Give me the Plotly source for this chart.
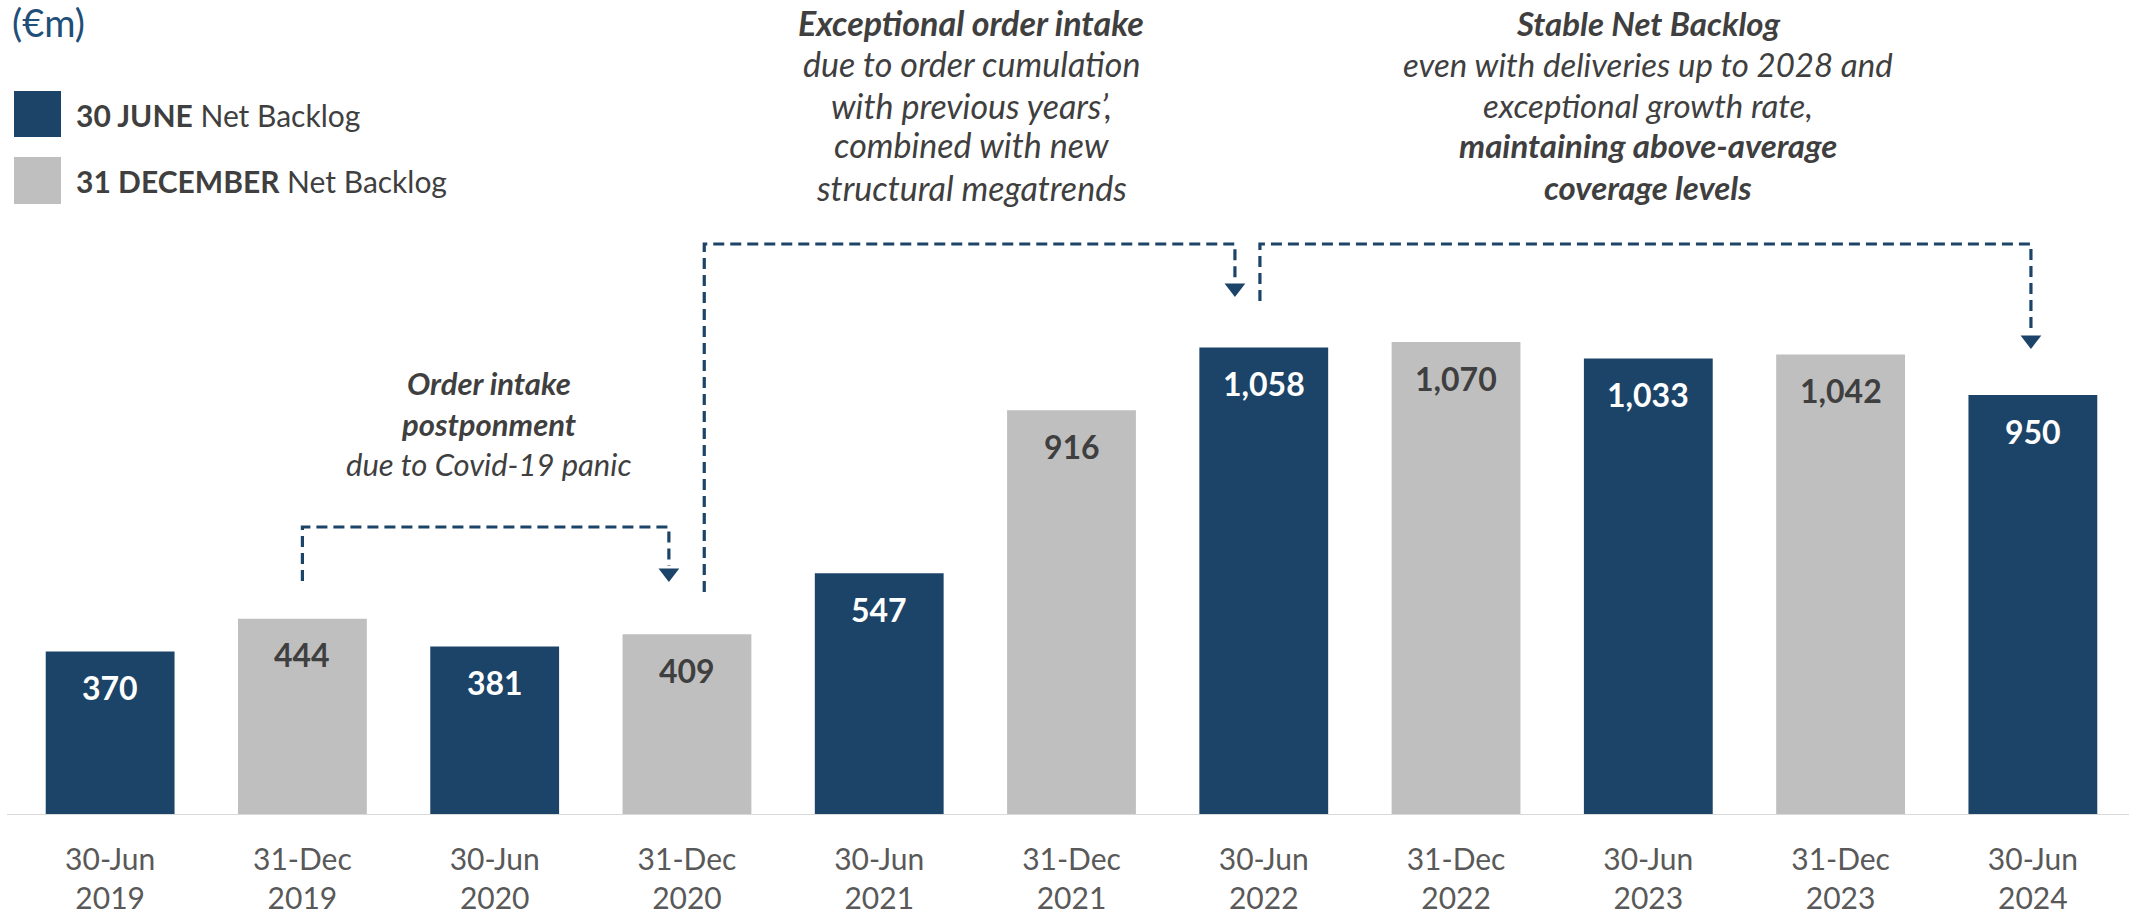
import plotly.graph_objects as go

# ---------------- data ----------------
categories = ["30-Jun<br>2019", "31-Dec<br>2019", "30-Jun<br>2020", "31-Dec<br>2020",
              "30-Jun<br>2021", "31-Dec<br>2021", "30-Jun<br>2022", "31-Dec<br>2022",
              "30-Jun<br>2023", "31-Dec<br>2023", "30-Jun<br>2024"]
backlog = [370, 444, 381, 409, 547, 916, 1058, 1070, 1033, 1042, 950]
period = ["JUN", "DEC", "JUN", "DEC", "JUN", "DEC", "JUN", "DEC", "JUN", "DEC", "JUN"]

# ---------------- styles ----------------
W, H = 2129, 918
ML, MR, MT, MB = 14, 0, 0, 103
PW, PH = W - ML - MR, H - MT - MB
YMAX = 1844
BLUE = "#1C4468"
GREY = "#BFBFBF"
TXT = "#3F3F3F"
FONT = "Lato"

def px(xp):
    return (xp - ML) / PW

def py(yp):
    return (MT + PH - yp) / PH

def ydata(yp):
    return (MT + PH - yp) / PH * YMAX

fig = go.Figure()

bar_colors = [BLUE if p == "JUN" else GREY for p in period]
fig.add_trace(go.Bar(x=list(range(len(backlog))), y=backlog, marker_color=bar_colors,
                     marker_line_width=0, width=0.67, showlegend=False, hoverinfo="skip"))

annotations = []
# value labels
for i, v in enumerate(backlog):
    annotations.append(dict(x=i, y=v, xref="x", yref="y", text=f"<b>{v:,}</b>",
                            showarrow=False, yanchor="middle", yshift=-36,
                            font=dict(family=FONT, size=32,
                                      color="white" if period[i] == "JUN" else TXT)))

# dashed connectors (x in category units, y in data units)
DASH = dict(color=BLUE, width=3.2, dash="11px,6px")
connectors = [
    ([1.0, 1.0, 2.906, 2.906], [ydata(581), ydata(527), ydata(527), ydata(566)]),
    ([3.09, 3.09, 5.85, 5.85], [ydata(592), ydata(244), ydata(244), ydata(282)]),
    ([5.98, 5.98, 9.99, 9.99], [ydata(301), ydata(244), ydata(244), ydata(334)]),
]
for xs, ys in connectors:
    fig.add_trace(go.Scatter(x=xs, y=ys, mode="lines", line=DASH, showlegend=False,
                             hoverinfo="skip"))
arrow_x = [2.906, 5.85, 9.99]
arrow_y = [ydata(573), ydata(288), ydata(340)]
fig.add_trace(go.Scatter(x=arrow_x, y=arrow_y, mode="markers",
                         marker=dict(symbol="triangle-down", size=18, color=BLUE),
                         showlegend=False, hoverinfo="skip"))

# unit label
annotations.append(dict(xref="paper", yref="paper", x=px(10), y=py(-3), text="(€m)",
                        showarrow=False, xanchor="left", yanchor="top",
                        font=dict(family=FONT, size=38, color="#1F4E79")))

# legend
shapes = []
legend_items = [("<b>30 JUNE</b> Net Backlog", BLUE, 91, 137, 115),
                ("<b>31 DECEMBER</b> Net Backlog", GREY, 157, 204, 181)]
for txt, col, y0, y1, yc in legend_items:
    shapes.append(dict(type="rect", xref="paper", yref="paper", x0=px(14), x1=px(61),
                       y0=py(y1), y1=py(y0), fillcolor=col, line=dict(width=0)))
    annotations.append(dict(xref="paper", yref="paper", x=px(74), y=py(yc), text=txt,
                            showarrow=False, xanchor="left", yanchor="middle",
                            font=dict(family=FONT, size=30, color=TXT)))

# commentary blocks (one annotation per line)
blocks = [
    (489, 31, [("<b><i>Order intake</i></b>", 383), ("<b><i>postponment</i></b>", 424),
               ("<i>due to Covid-19 panic</i>", 464)]),
    (971, 34, [("<b><i>Exceptional order intake</i></b>", 23), ("<i>due to order cumulation</i>", 64),
               ("<i>with previous years’,</i>", 105), ("<i>combined with new</i>", 145),
               ("<i>structural megatrends</i>", 187)]),
    (1648, 33, [("<b><i>Stable Net Backlog</i></b>", 23), ("<i>even with deliveries up to 2028 and</i>", 64),
                ("<i>exceptional growth rate,</i>", 105), ("<b><i>maintaining above-average</i></b>", 145),
                ("<b><i>coverage levels</i></b>", 187)]),
]
for xc, fs, lines in blocks:
    for txt, yc in lines:
        annotations.append(dict(xref="paper", yref="paper", x=px(xc), y=py(yc), text=txt,
                                showarrow=False, xanchor="center", yanchor="middle",
                                font=dict(family=FONT, size=fs, color=TXT)))

# baseline
shapes.append(dict(type="line", xref="paper", yref="y", x0=px(7), x1=1, y0=0, y1=0,
                   line=dict(color="#D9D9D9", width=2)))

fig.update_layout(
    width=W, height=H,
    margin=dict(l=ML, r=MR, t=MT, b=MB),
    paper_bgcolor="white", plot_bgcolor="white",
    annotations=annotations,
    shapes=shapes,
    xaxis=dict(range=[-0.5, 10.5], tickmode="array", tickvals=list(range(len(categories))),
               ticktext=categories, showgrid=False, zeroline=False, showline=False,
               ticks="", ticklabelstandoff=24,
               tickfont=dict(family=FONT, size=30, color="#595959"), fixedrange=True),
    yaxis=dict(range=[0, YMAX], visible=False, showgrid=False, zeroline=False, fixedrange=True),
)

fig.write_html("out.html", config={"displayModeBar": False})
